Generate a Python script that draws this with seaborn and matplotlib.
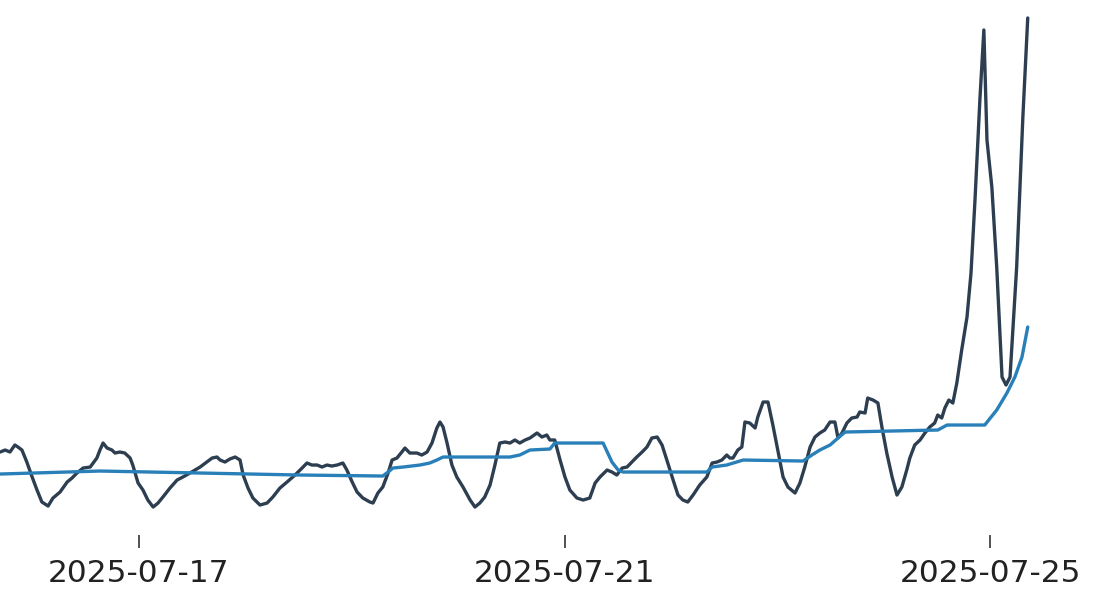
import pandas as pd
import numpy as np
import matplotlib
matplotlib.use("Agg")
import matplotlib.pyplot as plt
import matplotlib.dates as mdates
import seaborn as sns

# hours since 2025-07-15 00:00 and values
raw_hours = [16.7, 17.8, 18.9, 20.0, 20.7, 21.6, 22.7, 23.9, 25.0, 26.1, 27.5, 28.6, 30.2, 31.8,
             32.9, 34.0, 35.4, 37.0, 38.5, 39.2, 39.9, 40.8, 41.9, 42.6, 43.7, 44.8, 46.0, 46.6,
             47.8, 48.9, 50.0, 51.2, 52.3, 53.4, 55.0, 56.6, 57.9, 59.5, 61.8, 63.3, 64.5, 65.6,
             66.3, 67.4, 68.5, 69.7, 70.8, 71.5, 72.6, 73.7, 75.3, 76.9, 78.2, 79.8, 81.4, 83.2,
             84.8, 85.9, 87.0, 88.2, 89.3, 90.4, 91.5, 92.7, 94.0, 94.9, 96.1, 97.2, 98.5, 100.1,
             100.8, 101.9, 103.0, 104.2, 105.1, 106.2, 107.3, 108.0, 109.1, 110.7, 111.8, 113.0,
             114.1, 115.2, 115.9, 116.6, 117.5, 118.6, 119.7, 121.1, 122.7, 123.8, 124.9, 126.0,
             127.2, 128.3, 129.4, 130.6, 131.7, 132.8, 133.9, 135.1, 136.2, 137.8, 138.9, 140.0,
             140.7, 141.8, 143.0, 144.1, 145.2, 146.8, 148.2, 149.7, 150.9, 152.0, 153.6, 154.7,
             155.8, 157.0, 158.1, 159.2, 160.3, 161.5, 162.6, 163.7, 164.9, 166.0, 167.3, 168.5,
             169.6, 170.7, 171.8, 173.0, 174.5, 176.1, 177.3, 178.4, 179.5, 180.6, 181.3, 182.0,
             183.1, 184.0, 184.7, 185.8, 187.0, 187.6, 188.8, 189.9, 191.0, 192.1, 193.3, 194.4,
             196.0, 197.1, 198.2, 199.4, 200.5, 201.6, 202.7, 203.9, 205.0, 205.7, 206.6, 207.7,
             208.8, 210.0, 210.6, 211.8, 212.4, 213.6, 214.7, 215.6, 216.7, 217.9, 219.0, 220.1,
             221.2, 221.9, 223.0, 224.2, 225.3, 226.4, 227.5, 228.2, 229.1, 229.8, 230.7, 231.6,
             232.5, 233.6, 234.8, 235.7, 236.6, 237.7, 238.6, 239.3, 240.4, 241.5, 242.7, 243.6,
             244.5, 246.0, 247.4, 248.5]
raw_values = [29.6, 30.0, 29.6, 31.0, 30.6, 30.0, 27.6, 24.6, 22.0, 19.6, 18.8, 20.4, 21.6, 23.6,
              24.4, 25.4, 26.4, 26.6, 28.4, 30.0, 31.4, 30.4, 30.0, 29.4, 29.6, 29.4, 28.4, 27.0,
              23.4, 22.0, 20.0, 18.6, 19.4, 20.6, 22.4, 24.0, 24.6, 25.4, 26.6, 27.6, 28.4, 28.6,
              28.0, 27.6, 28.2, 28.6, 28.0, 25.0, 22.4, 20.4, 19.0, 19.4, 20.6, 22.4, 23.6, 25.0,
              26.4, 27.4, 27.0, 27.0, 26.6, 27.0, 26.8, 27.0, 27.4, 26.0, 23.6, 21.6, 20.4, 19.6,
              19.4, 21.4, 22.6, 25.4, 28.0, 28.4, 29.6, 30.4, 29.4, 29.4, 29.0, 29.6,
              31.4, 34.4, 35.6, 34.6, 31.4, 27.0, 24.6, 22.6, 20.0, 18.6, 19.4, 20.6,
              23.0, 27.0, 31.4, 31.6, 31.4, 32.0, 31.4, 32.0, 32.4, 33.4, 32.6, 33.0,
              32.0, 32.0, 28.0, 24.6, 22.0, 20.4, 20.0, 20.4, 23.4, 24.6, 26.0, 25.6,
              25.0, 26.4, 26.6, 27.6, 28.6, 29.6, 30.6, 32.4, 32.6, 31.0, 27.4, 24.0,
              21.0, 20.0, 19.6, 21.0, 23.0, 24.6, 27.4, 27.6, 28.0, 29.0, 28.4, 28.4,
              30.0, 30.6, 35.6, 35.4, 34.4, 36.6, 39.6, 39.6, 35.0, 30.0, 24.6, 22.6,
              21.4, 23.4, 26.6, 30.6, 32.6, 33.4, 34.0, 35.6, 35.6, 32.4, 33.4, 35.4,
              36.4, 36.6, 37.6, 37.4, 40.4, 40.0, 39.4, 34.6, 29.4, 24.6, 21.0, 22.6,
              26.0, 28.4, 31.0, 32.0, 33.4, 34.6, 35.4, 37.0, 36.4, 38.4, 40.0, 39.4,
              43.4, 50.0, 56.6, 65.4, 80.0, 100.0, 114.0, 92.0, 82.6, 66.6, 44.6, 43.0,
              44.6, 66.6, 96.6, 116.4]

# smoothed baseline
base_hours = [16.7, 39.2, 61.8, 84.3, 103.0, 104.2, 105.3, 107.6, 111.4, 113.6, 115.2, 116.6,
              131.7, 133.9, 136.2, 140.7, 141.8, 152.7, 154.7, 156.1, 157.2, 176.1, 177.3,
              180.6, 184.3, 197.8, 199.8, 201.6, 203.9, 205.7, 207.3, 228.2, 230.3, 238.8,
              241.5, 243.8, 245.6, 247.2, 248.5]
base_values = [25.2, 25.8, 25.4, 25.0, 24.8, 25.6, 26.4, 26.6, 27.0, 27.4, 28.0, 28.6,
               28.6, 29.0, 30.0, 30.2, 31.4, 31.4, 27.6, 26.0, 25.6, 25.6, 26.6,
               27.0, 28.0, 27.8, 29.0, 30.0, 31.0, 32.4, 33.6, 34.0, 35.0, 35.0,
               38.0, 41.4, 44.6, 48.6, 54.6]

tick_days = ["2025-07-17", "2025-07-21", "2025-07-25"]

start = pd.Timestamp("2025-07-15")
raw = pd.DataFrame({"time": start + pd.to_timedelta(raw_hours, unit="h"), "value": raw_values})
base = pd.DataFrame({"time": start + pd.to_timedelta(base_hours, unit="h"), "value": base_values})

sns.set_style("white")
plt.rcParams["font.family"] = ["DejaVu Sans"]

fig = plt.figure(figsize=(11, 6.13), dpi=100)
ax = fig.add_axes([0, 0.1272, 1, 0.8728])

sns.lineplot(data=raw, x="time", y="value", color="#2c3e50", linewidth=2.4, ax=ax)
sns.lineplot(data=base, x="time", y="value", color="#2980b9", linewidth=2.4, ax=ax)

ax.set_xlim(start + pd.Timedelta(hours=16.65), start + pd.Timedelta(hours=264.8))
ax.set_ylim(13, 120)
ax.set_xticks(pd.to_datetime(tick_days))
ax.xaxis.set_major_formatter(mdates.DateFormatter("%Y-%m-%d"))
ax.set_yticks([])
ax.set_xlabel("")
ax.set_ylabel("")
ax.tick_params(axis="x", bottom=True, length=9, width=1.1, pad=8,
               labelsize=22.5, colors="#222222")
for s in ax.spines.values():
    s.set_visible(False)

fig.savefig("out.png", dpi=100)
